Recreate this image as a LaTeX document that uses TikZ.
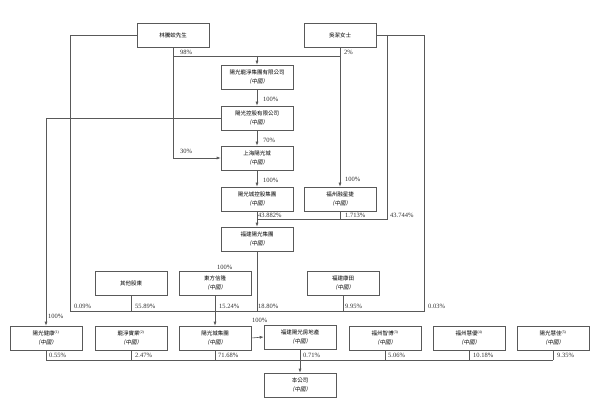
\documentclass[tikz,border=0pt]{standalone}
\usepackage{fontspec}
\setmainfont{Liberation Serif}
\newfontfamily\cjk{Noto Sans CJK TC}
\newfontfamily\cjkit[FakeSlant=0.2]{Noto Sans CJK TC}
\usetikzlibrary{arrows.meta}

\tikzset{
  ent/.style={draw=black!65, line width=0.6pt, minimum width=72pt,
    minimum height=24pt, inner sep=1pt, align=center,
    font=\cjk\fontsize{5.5}{9.5}\selectfont},
  pct/.style={anchor=west, inner sep=0pt, text=black!80,
    font=\fontsize{6.5}{7}\selectfont},
  link/.style={black!65, line width=0.6pt},
}
\newcommand{\cn}{\\{\cjkit （中國）}}
\newcommand{\fnote}[1]{\textsuperscript{\rmfamily(#1)}}

\begin{document}
\begin{tikzpicture}[x=1pt, y=-1pt, >={Latex[length=4pt,width=3pt]}]
    \useasboundingbox[fill=white] (0,0) rectangle (600,409);
    % shareholders at the top
    \node[ent] (lin) at (173,35) {林騰蛟先生};
    \node[ent] (wu) at (340,35) {吳潔女士};
    % holding chain
    \node[ent] (longjing) at (257,77) {陽光龍淨集團有限公司\cn};
    \node[ent] (konggu) at (257,118) {陽光控股有限公司\cn};
    \node[ent] (shanghai) at (257,158) {上海陽光城\cn};
    \node[ent] (chengkg) at (257,199) {陽光城控股集團\cn};
    \node[ent] (rongxj) at (340,199) {福州融星捷\cn};
    \node[ent] (fjyg) at (257,239) {福建陽光集團\cn};
    % middle row
    \node[ent] (others) at (131,283) {其他股東};
    \node[ent] (dfxl) at (215,283) {東方信隆\cn};
    \node[ent] (kangtian) at (343,283) {福建康田\cn};
    % bottom row
    \node[ent] (jiankang) at (46,338) {陽光健康\fnote{1}\cn};
    \node[ent] (longshi) at (131,338) {龍淨實業\fnote{2}\cn};
    \node[ent] (chengjt) at (215,338) {陽光城集團\cn};
    \node[ent] (fdc) at (300,337) {福建陽光房地產\cn};
    \node[ent] (zhibo) at (385,338) {福州智博\fnote{3}\cn};
    \node[ent] (huiyou) at (469,338) {福州慧優\fnote{4}\cn};
    \node[ent] (huijia) at (553,338) {陽光慧佳\fnote{5}\cn};
    \node[ent] (company) at (300,385) {本公司\cn};

    % upper connectors
    \coordinate (top) at (257,56);
    \draw[link] (lin.south |- top) -- (wu.south |- top);
    \draw[link,->] (top) -- (longjing.north);
    \draw[link,->] (lin.south) |- (shanghai.west);
    \draw[link,->] (wu.south) -- (rongxj.north);
    \draw[link,->] (longjing) -- (konggu);
    \draw[link,->] (konggu) -- (shanghai);
    \draw[link,->] (shanghai) -- (chengkg);
    \draw[link,->] (konggu.west) -| (jiankang.north);

    % into fjyg
    \coordinate (mid) at (257,219);
    \coordinate (wuA) at (387,35);
    \coordinate (wuB) at (424,35);
    \draw[link] (wuA) |- (mid) -- (chengkg.south);
    \draw[link] (rongxj.south) -- (rongxj.south |- mid);
    \draw[link,->] (mid) -- (fjyg.north);

    % holders of chengjt
    \coordinate (busL) at (70,311);
    \coordinate (busR) at (424,311);
    \draw[link] (lin.west) -| (busL) -- (busR) -- (wuB) -- (wu.east);
    \draw[link] (others.south) -- (others.south |- busL);
    \draw[link] (fjyg.south) -- (fjyg.south |- busL);
    \draw[link] (kangtian.south) -- (kangtian.south |- busL);
    \draw[link,->] (dfxl.south) -- (chengjt.north);
    \draw[link,->] (chengjt.east) -- (fdc.west);

    % holders of company
    \coordinate (lowL) at (46,360);
    \coordinate (lowR) at (553,360);
    \draw[link] (lowL) -- (lowR);
    \foreach \n in {jiankang,longshi,chengjt,zhibo,huiyou,huijia}
        \draw[link] (\n.south) -- (\n.south |- lowL);
    \draw[link,->] (fdc.south) -- (company.north);

    % percentages
    \node[pct] (p98) at (180,52) {98\%};
    \node[pct] (p2) at (344,52) {2\%};
    \node[pct] (p100a) at (263,99) {100\%};
    \node[pct] (p70) at (263,140) {70\%};
    \node[pct] (p30) at (180,151) {30\%};
    \node[pct] (p100b) at (263,180) {100\%};
    \node[pct] (p100c) at (345,179) {100\%};
    \node[pct] (p43882) at (258,215) {43.882\%};
    \node[pct] (p1713) at (345,215) {1.713\%};
    \node[pct] (p43744) at (390,215) {43.744\%};
    \node[pct] (p100d) at (217,267) {100\%};
    \node[pct] (p009) at (74,306) {0.09\%};
    \node[pct] (p5589) at (135,306) {55.89\%};
    \node[pct] (p1524) at (219,306) {15.24\%};
    \node[pct] (p1880) at (258,306) {18.80\%};
    \node[pct] (p995) at (345,306) {9.95\%};
    \node[pct] (p003) at (428,306) {0.03\%};
    \node[pct] (p100e) at (48,316) {100\%};
    \node[pct] (p100f) at (252,320) {100\%};
    \node[pct] (p055) at (49,355) {0.55\%};
    \node[pct] (p247) at (135,355) {2.47\%};
    \node[pct] (p7168) at (218,355) {71.68\%};
    \node[pct] (p071) at (303,355) {0.71\%};
    \node[pct] (p506) at (388,355) {5.06\%};
    \node[pct] (p1018) at (473,355) {10.18\%};
    \node[pct] (p935) at (557,355) {9.35\%};
\end{tikzpicture}
\end{document}
